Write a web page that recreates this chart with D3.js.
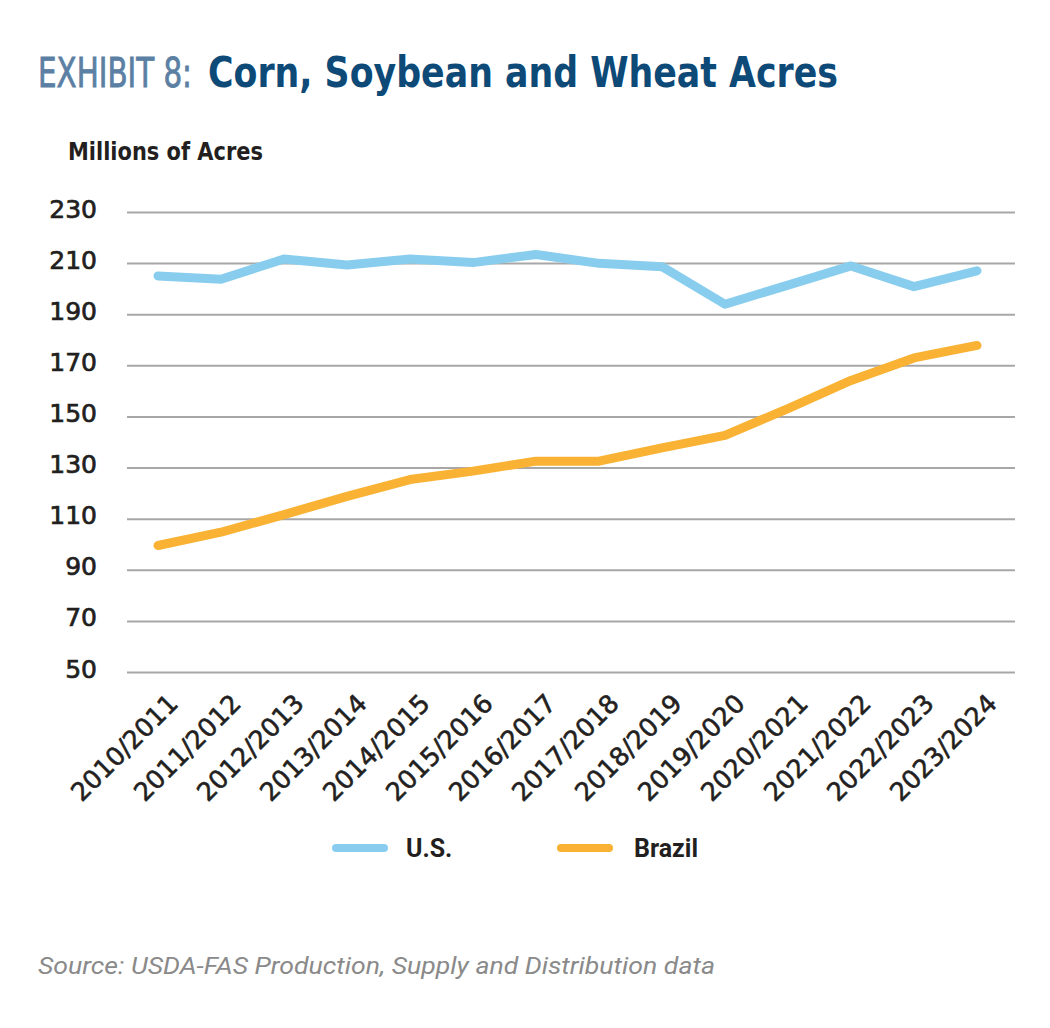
<!DOCTYPE html>
<html>
<head>
<meta charset="utf-8">
<script src="https://cdn.jsdelivr.net/npm/d3@7"></script>
<style>
  body { margin: 0; background: #fff; }
  svg text { fill: #231f20; }
</style>
</head>
<body>
<div id="chart"></div>
<script>
var seasons = ['2010/2011', '2011/2012', '2012/2013', '2013/2014', '2014/2015', '2015/2016', '2016/2017',
    '2017/2018', '2018/2019', '2019/2020', '2020/2021', '2021/2022', '2022/2023', '2023/2024'];
var usAcres = [205, 203.7, 211.6, 209.3, 211.6, 210.2, 213.4, 209.9, 208.6, 193.9, 201.4, 208.9, 200.8, 207];
var brazilAcres = [99.5, 104.7, 111.6, 118.7, 125.3, 128.6, 132.5, 132.5, 137.7, 142.6, 153.1, 164.1, 172.9, 177.8];
var yTicks = [50, 70, 90, 110, 130, 150, 170, 190, 210, 230];
var seriesNames = ['U.S.', 'Brazil'];

var width = 1050, height = 1028;
var blue = '#89cdee', orange = '#f9b233';
var narrow = "'Liberation Sans Narrow', 'DejaVu Sans Condensed', sans-serif";

var svg = d3.select('#chart').append('svg')
    .attr('width', width)
    .attr('height', height);

// title
svg.append('text')
    .attr('x', 38)
    .attr('y', 87)
    .text('EXHIBIT 8:')
    .style('font-family', narrow)
    .style('font-size', '40px')
    .style('fill', '#5b80a3')
    .style('stroke', '#5b80a3')
    .style('stroke-width', 0.8)
    .attr('textLength', 154)
    .attr('lengthAdjust', 'spacingAndGlyphs');
svg.append('text')
    .attr('x', 208)
    .attr('y', 87)
    .text('Corn, Soybean and Wheat Acres')
    .style('font-family', narrow)
    .style('font-size', '42px')
    .style('fill', '#0d4a77')
    .style('font-weight', 'bold')
    .attr('textLength', 630)
    .attr('lengthAdjust', 'spacingAndGlyphs');

svg.append('text')
    .attr('x', 68)
    .attr('y', 160)
    .text('Millions of Acres')
    .style('font-family', narrow)
    .style('font-weight', 'bold')
    .style('font-size', '24px')
    .attr('textLength', 195)
    .attr('lengthAdjust', 'spacingAndGlyphs');

var x = d3.scalePoint()
    .domain(seasons)
    .range([158, 977]);

var y = d3.scaleLinear()
    .domain([50, 230])
    .range([672, 212]);

// gridlines + y labels
var yAxis = svg.append('g')
    .attr('transform', 'translate(127,0)')
    .call(d3.axisLeft(y).tickValues(yTicks).tickSize(-888).tickPadding(30));
yAxis.select('.domain').remove();
yAxis.selectAll('.tick line')
    .attr('stroke', '#a7a7a7')
    .attr('stroke-width', 2);
yAxis.selectAll('.tick text')
    .attr('dy', '0.2em')
    .style('font-family', 'DejaVu Sans, sans-serif')
    .style('font-size', '25px')
    .style('fill', '#231f20')
    .style('stroke', '#231f20')
    .style('stroke-width', 0.7);

// x labels, rotated
var xAxis = svg.append('g')
    .attr('transform', 'translate(0,672)')
    .call(d3.axisBottom(x).tickSize(0));
xAxis.select('.domain').remove();
xAxis.selectAll('.tick text')
    .attr('text-anchor', 'end')
    .attr('x', 0)
    .attr('y', 0)
    .attr('dy', 0)
    .attr('transform', 'translate(21,33) rotate(-45)')
    .style('font-family', 'DejaVu Sans, sans-serif')
    .style('font-size', '25.5px')
    .style('fill', '#231f20')
    .style('stroke', '#231f20')
    .style('stroke-width', 0.6);

var line = d3.line()
    .x((d, i) => x(seasons[i]))
    .y(d => y(d));

svg.append('path')
    .datum(brazilAcres)
    .attr('d', line)
    .attr('fill', 'none')
    .attr('stroke', orange)
    .attr('stroke-width', 9)
    .attr('stroke-linecap', 'round')
    .attr('stroke-linejoin', 'round');

svg.append('path')
    .datum(usAcres)
    .attr('d', line)
    .attr('fill', 'none')
    .attr('stroke', blue)
    .attr('stroke-width', 9)
    .attr('stroke-linecap', 'round')
    .attr('stroke-linejoin', 'round');

// legend
var legend = svg.selectAll('.legend')
    .data(seriesNames)
    .enter()
    .append('g')
    .attr('class', 'legend')
    .attr('transform', (d, i) => 'translate(' + [336, 561][i] + ',848)');
legend.append('line')
    .attr('x1', 0)
    .attr('x2', 48)
    .attr('stroke', (d, i) => [blue, orange][i])
    .attr('stroke-width', 8)
    .attr('stroke-linecap', 'round');
legend.append('text')
    .attr('x', (d, i) => [70, 73][i])
    .attr('y', 9)
    .text(d => d)
    .style('font-family', 'Roboto, sans-serif')
    .style('font-weight', 'bold')
    .style('font-size', '25px');

svg.append('text')
    .attr('x', 38)
    .attr('y', 974)
    .text('Source: USDA-FAS Production, Supply and Distribution data')
    .style('font-family', 'Roboto, sans-serif')
    .style('font-style', 'italic')
    .style('font-size', '23px')
    .style('fill', '#8a8a8a')
    .attr('textLength', 677)
    .attr('lengthAdjust', 'spacingAndGlyphs');
</script>
</body>
</html>
